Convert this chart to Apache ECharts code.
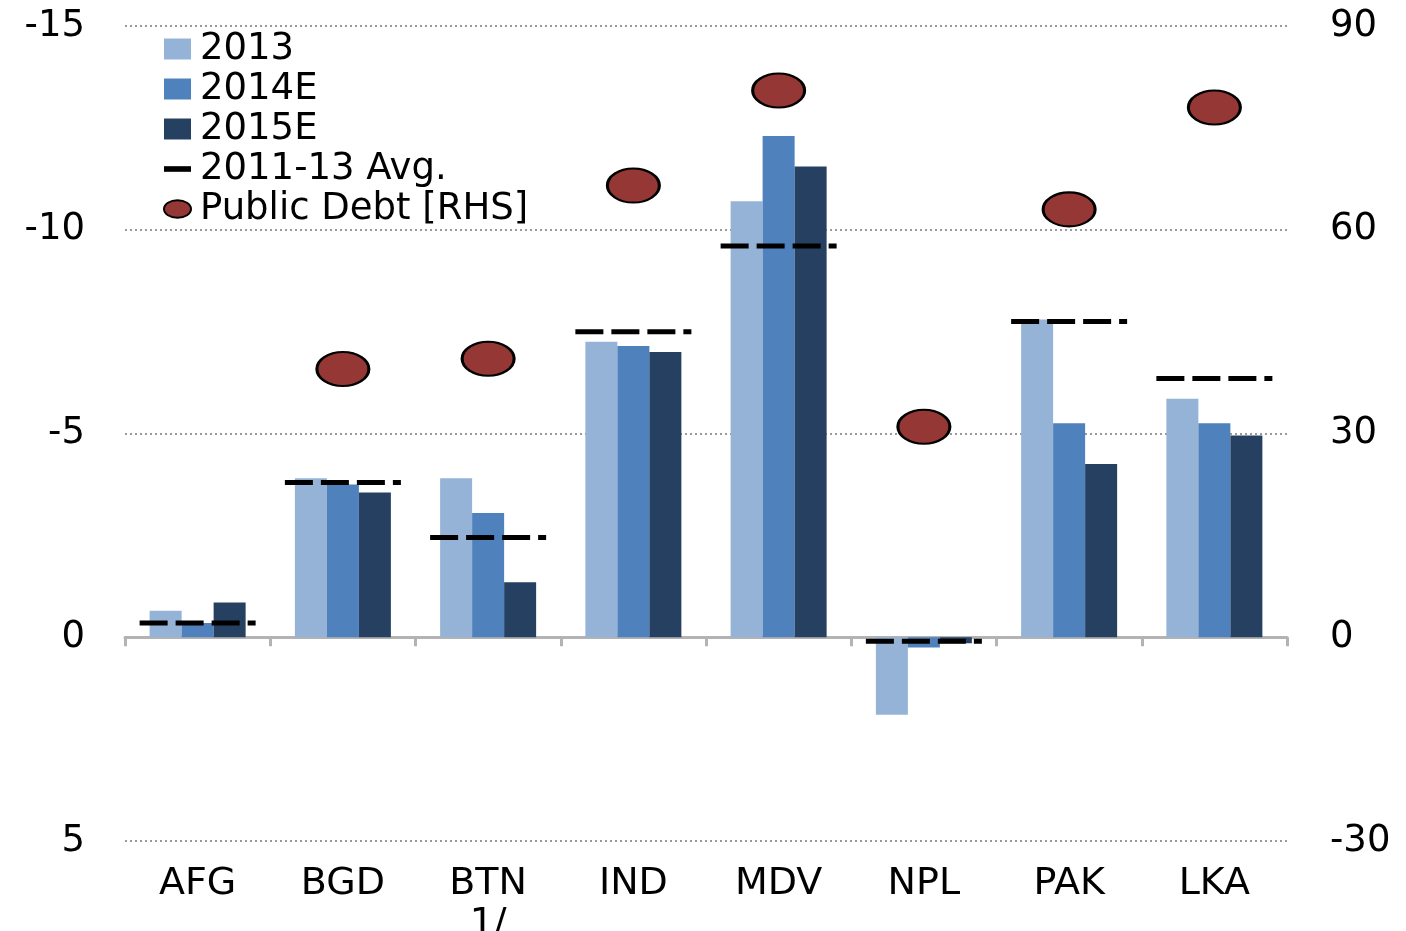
<!DOCTYPE html>
<html>
<head>
<meta charset="utf-8">
<script src="https://cdn.jsdelivr.net/npm/echarts@6/dist/echarts.min.js"></script>
<style>
  html, body { margin: 0; padding: 0; background: #fff; }
  #chart { width: 1406px; height: 931px; }
</style>
</head>
<body>
<div id="chart"></div>
<script>
// categories (country codes)
const categories = ['AFG', 'BGD', 'BTN\n1/', 'IND', 'MDV', 'NPL', 'PAK', 'LKA'];

// fiscal balance, % of GDP (left axis, inverted)
const bal2013 = [-0.65, -3.9, -3.9, -7.25, -10.7, 1.9, -7.8, -5.85];
const bal2014E = [-0.35, -3.75, -3.05, -7.15, -12.3, 0.25, -5.25, -5.25];
const bal2015E = [-0.85, -3.55, -1.35, -7.0, -11.55, 0.15, -4.25, -4.95];
const avg2011to13 = [-0.35, -3.8, -2.45, -7.5, -9.6, 0.1, -7.75, -6.35];

// public debt, % of GDP (right axis)
const publicDebt = [null, 39.5, 41, 66.5, 80.5, 31, 63, 78];

// axis ranges
const leftAxis = { min: -15, max: 5, interval: 5 };
const rightAxis = { min: -30, max: 90, interval: 30 };

const FONT = 'DejaVu Sans';
const dashSymbol = 'path://M0,0h28v6h-28zM36,0h28v6h-28zM72,0h28v6h-28zM108,0h8v6h-8z';
const ellipseSymbol = 'path://M0,17A26,17,0,1,1,52,17A26,17,0,1,1,0,17Z';

const chart = echarts.init(document.getElementById('chart'));
chart.setOption({
  animation: false,
  textStyle: { fontFamily: FONT },
  grid: { left: 125, right: 119, top: 26, bottom: 90, outerBoundsMode: 'none' },
  legend: {
    orient: 'vertical',
    left: 158,
    top: 24,
    itemWidth: 27,
    itemHeight: 21,
    itemGap: 0,
    selectedMode: false,
    textStyle: { fontFamily: FONT, fontSize: 37, lineHeight: 40, color: '#000', padding: [0, 0, 0, 4] },
    data: [
      { name: '2013', icon: 'rect' },
      { name: '2014E', icon: 'rect' },
      { name: '2015E', icon: 'rect' },
      { name: '2011-13 Avg.', icon: 'path://M0,0h24v5h-24z' },
      { name: 'Public Debt [RHS]', icon: ellipseSymbol }
    ]
  },
  xAxis: [
    {
      type: 'category',
      data: categories,
      position: 'bottom',
      axisLine: { onZero: true, lineStyle: { color: '#b3b3b3', width: 3 } },
      axisTick: { show: true, length: 9, lineStyle: { color: '#b3b3b3', width: 3 } },
      axisLabel: { show: false },
      splitLine: { show: false }
    },
    {
      type: 'category',
      data: categories,
      position: 'bottom',
      axisLine: { show: false, onZero: false },
      axisTick: { show: false },
      axisLabel: { show: true, margin: 23, fontFamily: FONT, fontSize: 38, lineHeight: 40, color: '#000' },
      splitLine: { show: false }
    }
  ],
  yAxis: [
    {
      type: 'value',
      inverse: true,
      min: leftAxis.min,
      max: leftAxis.max,
      interval: leftAxis.interval,
      axisLine: { show: false },
      axisTick: { show: false },
      axisLabel: { margin: 40, fontFamily: FONT, fontSize: 37, color: '#000' },
      splitLine: { show: true, lineStyle: { color: '#999', width: 2, type: [2, 3] } }
    },
    {
      type: 'value',
      min: rightAxis.min,
      max: rightAxis.max,
      interval: rightAxis.interval,
      axisLine: { show: false },
      axisTick: { show: false },
      axisLabel: { margin: 43, fontFamily: FONT, fontSize: 37, color: '#000' },
      splitLine: { show: false }
    }
  ],
  series: [
    {
      name: '2013', type: 'bar', data: bal2013, barWidth: 32, barGap: '0%',
      itemStyle: { color: '#95B3D7' }
    },
    {
      name: '2014E', type: 'bar', data: bal2014E, barWidth: 32, barGap: '0%',
      itemStyle: { color: '#4F81BD' }
    },
    {
      name: '2015E', type: 'bar', data: bal2015E, barWidth: 32, barGap: '0%',
      itemStyle: { color: '#254061' }
    },
    {
      name: '2011-13 Avg.', type: 'scatter', data: avg2011to13, z: 5,
      symbol: dashSymbol, symbolSize: [116, 5],
      itemStyle: { color: '#000', opacity: 1 }
    },
    {
      name: 'Public Debt [RHS]', type: 'scatter', yAxisIndex: 1, data: publicDebt, z: 6,
      symbol: ellipseSymbol, symbolSize: [52, 34],
      itemStyle: { color: '#953735', borderColor: '#000', borderWidth: 2.5, opacity: 1 }
    }
  ]
});
</script>
</body>
</html>
